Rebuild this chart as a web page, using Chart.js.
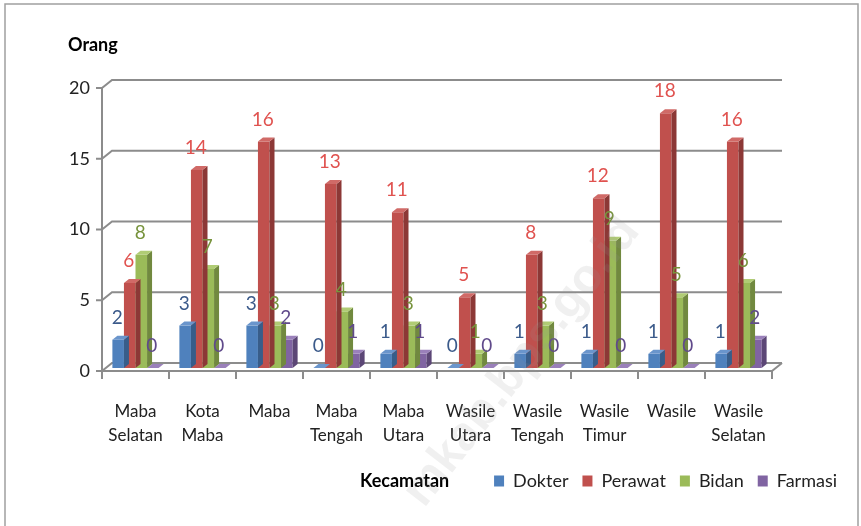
<!DOCTYPE html>
<html lang="id">

<head>
    <meta charset="UTF-8">
    <title>Tenaga Kesehatan per Kecamatan</title>
    <style>
        body {
            margin: 0;
            background-color: white;
        }

        #wrap {
            width: 861px;
            height: 526px;
        }
    </style>
</head>

<body>
    <div id="wrap"><canvas id="nakesChart" width="861" height="526"></canvas></div>

    <script src="https://cdn.jsdelivr.net/npm/chart.js"></script>
    <script>
        // Data
        const kecamatan = [
            ['Maba', 'Selatan'], ['Kota', 'Maba'], ['Maba'], ['Maba', 'Tengah'], ['Maba', 'Utara'],
            ['Wasile', 'Utara'], ['Wasile', 'Tengah'], ['Wasile', 'Timur'], ['Wasile'], ['Wasile', 'Selatan']
        ];
        const dokter = [2, 3, 3, 0, 1, 0, 1, 1, 1, 1];
        const perawat = [6, 14, 16, 13, 11, 5, 8, 12, 18, 16];
        const bidan = [8, 7, 3, 4, 3, 1, 3, 9, 5, 6];
        const farmasi = [0, 0, 2, 1, 1, 0, 0, 0, 0, 2];
        const yTicks = [0, 5, 10, 15, 20];

        const FONT = 'Lato, Carlito, sans-serif';
        const DX = 5, DY = 4; // kedalaman 3D

        // warna: depan, samping, atas, label
        const warna = {
            Dokter: ['#4F81BD', '#385D8A', '#6A95CC', '#3B5A8A'],
            Perawat: ['#C0504D', '#8C3836', '#D06A67', '#E0524F'],
            Bidan: ['#9BBB59', '#71893F', '#B0CC74', '#77933C'],
            Farmasi: ['#8064A2', '#5C4776', '#9A80BA', '#604A8B']
        };

        const mkDataset = (label, data) => ({
            label: label,
            data: data,
            backgroundColor: warna[label][0],
            borderWidth: 0,
            categoryPercentage: 0.69,
            barPercentage: 1.0
        });

        // bingkai, dinding belakang, lantai
        const framePlugin = {
            id: 'frame',
            beforeDraw(chart) {
                const ctx = chart.ctx;
                ctx.save();
                ctx.fillStyle = 'white';
                ctx.fillRect(0, 0, chart.width, chart.height);
                ctx.strokeStyle = '#a0a0a0';
                ctx.lineWidth = 1.5;
                ctx.beginPath();
                ctx.moveTo(5, 526); ctx.lineTo(5, 4); ctx.lineTo(858, 4); ctx.lineTo(858, 526);
                ctx.stroke();
                ctx.restore();
            },
            beforeDatasetsDraw(chart) {
                const ctx = chart.ctx;
                const { left, right } = chart.chartArea;
                const y = chart.scales.y;
                ctx.save();
                ctx.strokeStyle = '#8c8c8c';
                ctx.lineWidth = 2;
                yTicks.forEach(v => {
                    const py = y.getPixelForValue(v);
                    ctx.beginPath();
                    ctx.moveTo(left - 6, py + 3);
                    ctx.lineTo(left, py + 3);
                    ctx.lineTo(left + 10, py - 5);
                    ctx.lineTo(right + 10, py - 5);
                    ctx.stroke();
                });
                const y0 = y.getPixelForValue(0);
                const y20 = y.getPixelForValue(20);
                ctx.beginPath();
                ctx.moveTo(left, y20 + 3);
                ctx.lineTo(left, y0 + 3);
                ctx.lineTo(right, y0 + 3);
                ctx.lineTo(right + 10, y0 - 5);
                ctx.stroke();
                // tanda kategori
                const step = (right - left) / kecamatan.length;
                for (let i = 0; i <= kecamatan.length; i++) {
                    const px = left + i * step;
                    ctx.beginPath();
                    ctx.moveTo(px, y0 + 3);
                    ctx.lineTo(px, y0 + 11);
                    ctx.stroke();
                }
                ctx.restore();
            },
            afterDatasetDraw(chart, args) {
                const ctx = chart.ctx;
                const c = warna[chart.data.datasets[args.index].label];
                ctx.save();
                args.meta.data.forEach(bar => {
                    const { x, y, base, width } = bar.getProps(['x', 'y', 'base', 'width'], true);
                    const l = x - width / 2, r = x + width / 2;
                    ctx.fillStyle = c[1];
                    ctx.beginPath();
                    ctx.moveTo(r, y); ctx.lineTo(r + DX, y - DY); ctx.lineTo(r + DX, base - DY); ctx.lineTo(r, base);
                    ctx.closePath(); ctx.fill();
                    ctx.fillStyle = c[2];
                    ctx.beginPath();
                    ctx.moveTo(l, y); ctx.lineTo(l + DX, y - DY); ctx.lineTo(r + DX, y - DY); ctx.lineTo(r, y);
                    ctx.closePath(); ctx.fill();
                });
                ctx.restore();
            },
            afterDatasetsDraw(chart) {
                const ctx = chart.ctx;
                ctx.save();
                ctx.font = `19px ${FONT}`;
                ctx.textAlign = 'center';
                ctx.textBaseline = 'middle';
                chart.data.datasets.forEach((ds, i) => {
                    ctx.fillStyle = warna[ds.label][3];
                    chart.getDatasetMeta(i).data.forEach((bar, j) => {
                        ctx.fillText(String(ds.data[j]), bar.x - 1, bar.y - 22);
                    });
                });
                ctx.restore();
            },
            afterDraw(chart) {
                const ctx = chart.ctx;
                ctx.save();
                ctx.fillStyle = '#000';
                ctx.font = `bold 18px ${FONT}`;
                ctx.textBaseline = 'middle';
                ctx.fillText('Orang', 68, 45);
                const lg = chart.legend;
                const ly = lg.legendHitBoxes.length ? lg.legendHitBoxes[0].top + lg.legendHitBoxes[0].height / 2 : 477;
                ctx.fillText('Kecamatan', 360, ly);
                // watermark
                ctx.translate(522, 362);
                ctx.rotate(-52 * Math.PI / 180);
                ctx.textAlign = 'center';
                ctx.font = 'bold 48px "Liberation Sans", Arial, sans-serif';
                ctx.fillStyle = 'rgba(150, 150, 150, 0.14)';
                ctx.fillText('mkab.bps.go.id', 0, 0);
                ctx.restore();
            }
        };

        new Chart(document.getElementById('nakesChart'), {
            type: 'bar',
            data: {
                labels: kecamatan,
                datasets: [
                    mkDataset('Dokter', dokter),
                    mkDataset('Perawat', perawat),
                    mkDataset('Bidan', bidan),
                    mkDataset('Farmasi', farmasi)
                ]
            },
            options: {
                responsive: false,
                animation: false,
                devicePixelRatio: 1,
                layout: { padding: { top: 85, left: 0, right: 10, bottom: 26 } },
                plugins: {
                    legend: {
                        position: 'bottom',
                        align: 'end',
                        labels: {
                            boxWidth: 10,
                            boxHeight: 11,
                            padding: 14,
                            color: '#222',
                            font: { family: FONT, size: 18 }
                        }
                    },
                    tooltip: { enabled: false }
                },
                scales: {
                    x: {
                        grid: { display: false, drawTicks: false },
                        border: { display: false },
                        ticks: {
                            color: '#222',
                            padding: 32,
                            maxRotation: 0,
                            autoSkip: false,
                            font: { family: FONT, size: 17, lineHeight: 1.4 }
                        },
                        afterFit: s => { s.height = 90; }
                    },
                    y: {
                        min: 0,
                        max: 20,
                        grid: { display: false, drawTicks: false },
                        border: { display: false },
                        ticks: {
                            stepSize: 5,
                            color: '#222',
                            padding: 12,
                            labelOffset: 3,
                            font: { family: FONT, size: 18 }
                        },
                        afterFit: s => { s.width = 102; }
                    },
                    y2: {
                        position: 'right',
                        display: true,
                        grid: { display: false, drawTicks: false },
                        border: { display: false },
                        ticks: { display: false },
                        afterFit: s => { s.width = 79; }
                    }
                }
            },
            plugins: [framePlugin]
        });
    </script>
</body>

</html>
